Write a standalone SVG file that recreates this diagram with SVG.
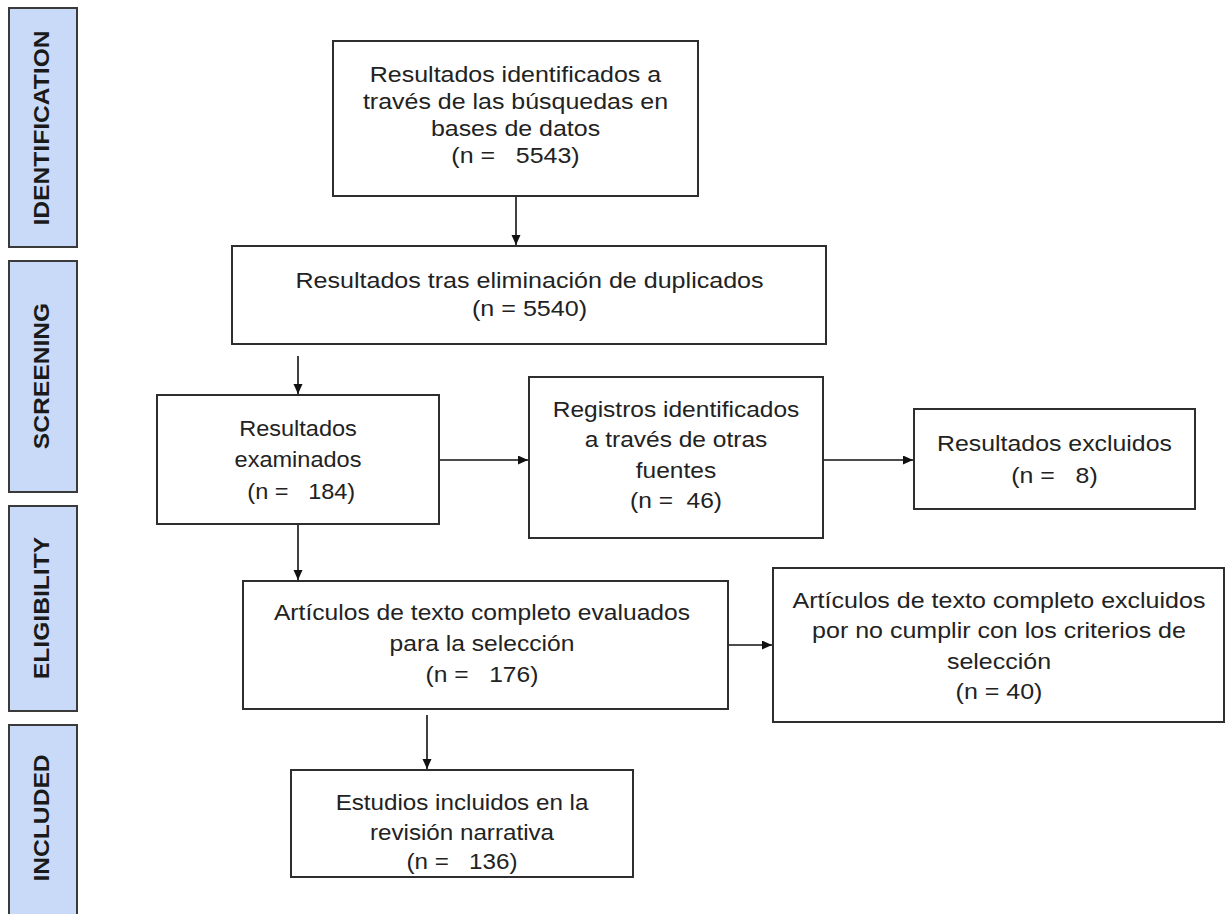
<svg xmlns="http://www.w3.org/2000/svg" width="1226" height="914" viewBox="0 0 1226 914">
<style>
.side{fill:#c9daf8;stroke:#3a3a3a;stroke-width:2}
.sidet{font-family:"Liberation Sans",Arial,sans-serif;font-weight:bold;font-size:22px;fill:#1a1a1a;text-anchor:middle}
.box{fill:#ffffff;stroke:#2e2e2e;stroke-width:2}
.t{font-family:"Liberation Sans",Arial,sans-serif;font-size:22px;fill:#222222;text-anchor:middle;white-space:pre}
.c{stroke:#111111;stroke-width:1.6;fill:none;marker-end:url(#ah)}
</style>
<defs>
<marker id="ah" markerUnits="userSpaceOnUse" markerWidth="11" markerHeight="10" refX="10" refY="4.5" orient="auto">
<path d="M0,0 L10,4.5 L0,9 Z" fill="#111111"/>
</marker>
</defs>
<rect width="1226" height="914" fill="#ffffff"/>
<g id="side-identification">
<rect class="side" x="9" y="8" width="68" height="239"/>
<text class="sidet" transform="translate(48.5,128) rotate(-90) scale(1.12,1)" x="0" y="0">IDENTIFICATION</text>
</g>
<g id="side-screening">
<rect class="side" x="9" y="261" width="68" height="231"/>
<text class="sidet" transform="translate(48.5,376) rotate(-90) scale(1.12,1)" x="0" y="0">SCREENING</text>
</g>
<g id="side-eligibility">
<rect class="side" x="9" y="506" width="68" height="205"/>
<text class="sidet" transform="translate(48.5,608) rotate(-90) scale(1.12,1)" x="0" y="0">ELIGIBILITY</text>
</g>
<g id="side-included">
<rect class="side" x="9" y="725" width="68" height="200"/>
<text class="sidet" transform="translate(48.5,818) rotate(-90) scale(1.12,1)" x="0" y="0">INCLUDED</text>
</g>
<g id="connectors">
<line class="c" x1="516" y1="197" x2="516" y2="245"/>
<line class="c" x1="298" y1="356" x2="298" y2="394"/>
<line class="c" x1="440" y1="460" x2="528" y2="460"/>
<line class="c" x1="824" y1="460" x2="913" y2="460"/>
<line class="c" x1="298" y1="525" x2="298" y2="580"/>
<line class="c" x1="729" y1="645" x2="772" y2="645"/>
<line class="c" x1="427" y1="715" x2="427" y2="769"/>
</g>
<g id="n1">
<rect class="box" x="333" y="41" width="365" height="155"/>
<text class="t" transform="translate(515.5,0) scale(1.135,1)"><tspan x="0" y="82">Resultados identificados a</tspan><tspan x="0" y="109">través de las búsquedas en</tspan><tspan x="0" y="136">bases de datos</tspan><tspan x="0" y="163">(n =   5543)</tspan></text>
</g>
<g id="n2">
<rect class="box" x="232" y="246" width="594" height="98"/>
<text class="t" transform="translate(529.5,0) scale(1.14,1)"><tspan x="0" y="288">Resultados tras eliminación de duplicados</tspan><tspan x="0" y="316">(n = 5540)</tspan></text>
</g>
<g id="n3">
<rect class="box" x="157" y="395" width="282" height="129"/>
<text class="t" transform="translate(298,0) scale(1.07,1)"><tspan x="0" y="436">Resultados</tspan><tspan x="0" y="467">examinados</tspan><tspan x="0" y="499"> (n =   184)</tspan></text>
</g>
<g id="n5">
<rect class="box" x="529" y="377" width="294" height="161"/>
<text class="t" transform="translate(676,0) scale(1.115,1)"><tspan x="0" y="417">Registros identificados</tspan><tspan x="0" y="447.5">a través de otras</tspan><tspan x="0" y="478">fuentes</tspan><tspan x="0" y="508.5">(n =  46)</tspan></text>
</g>
<g id="n6">
<rect class="box" x="914" y="409" width="281" height="100"/>
<text class="t" transform="translate(1054.5,0) scale(1.13,1)"><tspan x="0" y="451">Resultados excluidos</tspan><tspan x="0" y="483">(n =   8)</tspan></text>
</g>
<g id="n4">
<rect class="box" x="243" y="581" width="485" height="128"/>
<text class="t" transform="translate(482,0) scale(1.12,1)"><tspan x="0" y="620">Artículos de texto completo evaluados</tspan><tspan x="0" y="651">para la selección</tspan><tspan x="0" y="682">(n =   176)</tspan></text>
</g>
<g id="n7">
<rect class="box" x="773" y="568" width="451" height="154"/>
<text class="t" transform="translate(999,0) scale(1.137,1)"><tspan x="0" y="608">Artículos de texto completo excluidos</tspan><tspan x="0" y="638.5">por no cumplir con los criterios de</tspan><tspan x="0" y="669">selección</tspan><tspan x="0" y="699.5">(n = 40)</tspan></text>
</g>
<g id="n8">
<rect class="box" x="291" y="770" width="342" height="107"/>
<text class="t" transform="translate(462,0) scale(1.1,1)"><tspan x="0" y="810">Estudios incluidos en la</tspan><tspan x="0" y="840">revisión narrativa</tspan><tspan x="0" y="869">(n =   136)</tspan></text>
</g>
</svg>
